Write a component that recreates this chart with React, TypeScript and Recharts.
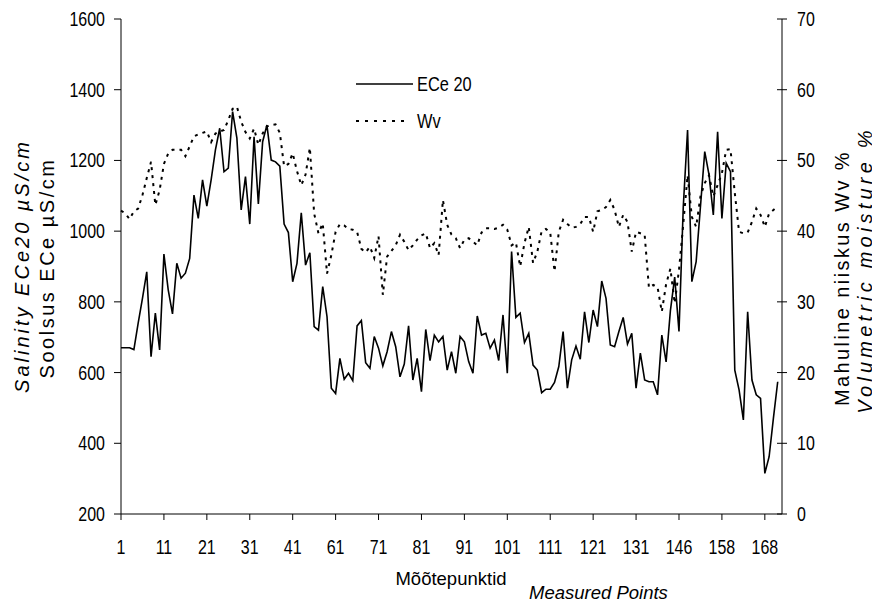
import { LineChart, Line, XAxis, YAxis } from 'recharts';

// ECe 20 (µS/cm), one value per measured point
const ece = [
  670, 670, 670, 665, 740, 810, 885, 645, 768, 664,
  935, 834, 766, 909, 867, 881, 923, 1102, 1036, 1145,
  1071, 1145, 1230, 1291, 1168, 1178, 1338, 1263, 1060, 1154,
  1020, 1267, 1077, 1253, 1300, 1201, 1196, 1184, 1020, 996,
  857, 909, 1052, 904, 939, 730, 720, 843, 758, 556,
  541, 640, 581, 598, 577, 732, 747, 628, 612, 702,
  669, 619, 659, 716, 673, 588, 624, 732, 579, 640,
  546, 722, 634, 706, 687, 702, 607, 659, 598, 702,
  687, 631, 598, 760, 706, 711, 669, 692, 634, 763,
  598, 942, 756, 768, 685, 711, 621, 607, 543, 553,
  553, 572, 617, 716, 556, 636, 675, 638, 772, 685,
  777, 730, 859, 810, 678, 673, 716, 756, 681, 711,
  556, 655, 579, 574, 574, 537, 706, 630, 775, 870,
  716, 1069, 1286, 857, 914, 1069, 1225, 1159, 1046, 1281,
  1036, 1192, 1168, 607, 551, 466, 772, 579, 537, 527,
  315, 362, 471, 574,
];

// Wv volumetric moisture (%)
const wv = [
  42.9, 42.5, 41.7, 42.8, 43.2, 45.1, 47.5, 49.8, 43.7, 45.8,
  49.5, 51.0, 51.5, 51.5, 51.5, 50.6, 52.0, 53.4, 53.7, 53.9,
  54.1, 52.6, 53.8, 54.1, 54.3, 55.7, 57.3, 57.6, 55.5, 54.0,
  53.1, 54.5, 52.2, 53.8, 54.8, 55.0, 55.1, 53.9, 49.2, 49.5,
  51.0, 48.5, 46.5, 48.0, 51.8, 42.5, 39.7, 41.1, 34.0, 36.6,
  39.9, 41.0, 40.8, 40.3, 40.2, 39.9, 37.5, 37.0, 37.8, 36.2,
  39.3, 31.0, 36.4, 37.2, 38.0, 39.5, 38.5, 37.3, 38.0, 38.8,
  39.4, 39.7, 37.6, 38.3, 36.6, 44.4, 40.9, 39.5, 39.0, 37.6,
  38.8, 39.0, 38.5, 38.0, 39.8, 40.4, 40.4, 40.3, 40.5, 40.9,
  40.2, 38.0, 38.4, 35.0, 38.3, 40.6, 35.5, 37.1, 40.0, 40.3,
  39.8, 34.3, 39.9, 41.6, 41.0, 40.5, 40.6, 41.0, 42.0, 42.0,
  39.9, 42.8, 43.0, 43.4, 44.4, 43.0, 40.6, 42.3, 41.3, 37.1,
  39.9, 39.7, 39.5, 32.0, 32.4, 32.1, 28.6, 32.5, 34.7, 29.8,
  34.5, 41.0, 47.9, 42.0, 40.6, 44.9, 46.8, 47.9, 44.9, 46.5,
  48.2, 51.5, 51.6, 45.4, 39.9, 39.7, 39.8, 41.3, 43.2, 42.3,
  40.6, 42.5, 43.0, 43.5,
];

// point numbers shown under every 10th position
const xTickLabels = ['1', '11', '21', '31', '41', '61', '71', '81', '91', '101', '111', '121', '131', '146', '158', '168'];
const xTicks = xTickLabels.map((_, k) => k * 10);
const leftTicks = [200, 400, 600, 800, 1000, 1200, 1400, 1600];
const rightTicks = [0, 10, 20, 30, 40, 50, 60, 70];

const data = ece.map((v, i) => ({ pos: i, ece: v, wv: wv[i] }));

const FONT = '"Liberation Sans", Arial, sans-serif';
const FS = 19.5;
const SQUEEZE = 0.82; // the original uses a narrow font

const NarrowText = ({ x, y, anchor, dy, children, size = FS }: any) => (
  <g transform={`translate(${x},${y})`}>
    <text transform={`scale(${SQUEEZE},1)`} textAnchor={anchor} dy={dy} fontSize={size} fontFamily={FONT} fill="#000">
      {children}
    </text>
  </g>
);

const XTick = (props: any) => (
  <NarrowText x={props.x} y={props.y} anchor="middle" dy="0.71em">
    {xTickLabels[Math.round(props.payload.value / 10)]}
  </NarrowText>
);

const LeftTick = (props: any) => (
  <NarrowText x={props.x} y={props.y} anchor="end" dy="0.355em">
    {props.payload.value}
  </NarrowText>
);

const RightTick = (props: any) => {
  const { x, y, payload } = props;
  return (
    <g>
      <line x1={x - 5} x2={x + 5} y1={y} y2={y} stroke="#000" />
      <NarrowText x={x + 15} y={y} anchor="start" dy="0.355em">
        {payload.value}
      </NarrowText>
    </g>
  );
};

const AxisTitles = () => (
  <g fontFamily={FONT} fill="#000">
    <text transform="translate(22,266) rotate(-90)" textAnchor="middle" dominantBaseline="central" fontSize={20} fontStyle="italic" letterSpacing={3}>
      Salinity ECe20   µS/cm
    </text>
    <text transform="translate(47,268) rotate(-90)" textAnchor="middle" dominantBaseline="central" fontSize={20} letterSpacing={2.5}>
      Soolsus ECe µS/cm
    </text>
    <text transform="translate(842,278) rotate(-90)" textAnchor="middle" dominantBaseline="central" fontSize={20} letterSpacing={2.4}>
      Mahuline niiskus Wv %
    </text>
    <text transform="translate(865,270) rotate(-90)" textAnchor="middle" dominantBaseline="central" fontSize={20} fontStyle="italic" letterSpacing={4.2}>
      Volumetric moisture %
    </text>
    <text x={451} y={578} textAnchor="middle" dominantBaseline="central" fontSize={18.5}>Mõõtepunktid</text>
    <text x={529} y={592} dominantBaseline="central" fontSize={18.5} fontStyle="italic">Measured Points</text>
  </g>
);

const LegendBox = () => (
  <g>
    <line x1={356} x2={413} y1={84} y2={84} stroke="#000" strokeWidth={1.6} />
    <NarrowText x={417} y={84} anchor="start" dy="0.355em" size={20}>ECe 20</NarrowText>
    <line x1={356} x2={410} y1={121} y2={121} stroke="#000" strokeWidth={2} strokeDasharray="3 6" />
    <NarrowText x={417} y={121} anchor="start" dy="0.355em" size={20}>Wv</NarrowText>
  </g>
);

export default function App() {
  return (
    <div style={{ margin: -8, width: 880, height: 608, background: '#fff' }}>
      <LineChart width={880} height={608} data={data} margin={{ top: 19, right: 0, bottom: 0, left: 0 }}>
        <XAxis
          dataKey="pos"
          type="number"
          domain={[0, 154]}
          ticks={xTicks}
          interval={0}
          height={94}
          stroke="#000"
          tickSize={6}
          tickMargin={20}
          tick={XTick}
        />
        <YAxis
          yAxisId="left"
          domain={[200, 1600]}
          ticks={leftTicks}
          width={121}
          stroke="#000"
          tickSize={7}
          tickMargin={9}
          tick={LeftTick}
        />
        <YAxis
          yAxisId="right"
          orientation="right"
          domain={[0, 70]}
          ticks={rightTicks}
          width={98}
          stroke="#000"
          tickLine={false}
          tickSize={0}
          tickMargin={0}
          tick={RightTick}
        />
        <Line
          yAxisId="left"
          type="linear"
          dataKey="ece"
          name="ECe 20"
          stroke="#000"
          strokeWidth={1.6}
          dot={false}
          isAnimationActive={false}
        />
        <Line
          yAxisId="right"
          type="linear"
          dataKey="wv"
          name="Wv"
          stroke="#000"
          strokeWidth={2}
          strokeDasharray="3 5"
          dot={false}
          isAnimationActive={false}
        />
        <LegendBox />
        <AxisTitles />
      </LineChart>
    </div>
  );
}
